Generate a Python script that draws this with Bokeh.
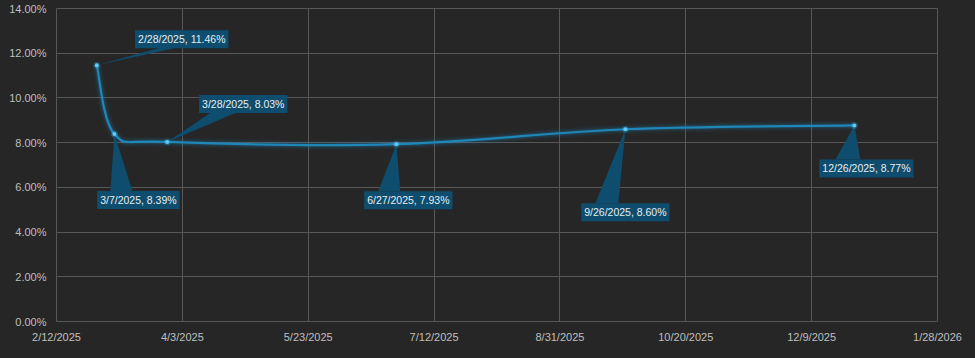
import numpy as np
import pandas as pd
from bokeh.plotting import figure
from bokeh.models import ColumnDataSource, Label, Range1d, FixedTicker
from bokeh.embed import file_html
from bokeh.resources import INLINE

# ---- data ----
dates = ["2025-02-28", "2025-03-07", "2025-03-28", "2025-06-27", "2025-09-26", "2025-12-26"]
values = [11.46, 8.39, 8.03, 7.93, 8.60, 8.77]
date_labels = ["2/28/2025", "3/7/2025", "3/28/2025", "6/27/2025", "9/26/2025", "12/26/2025"]
x_tick_dates = ["2025-02-12", "2025-04-03", "2025-05-23", "2025-07-12", "2025-08-31", "2025-10-20", "2025-12-09", "2026-01-28"]
x_tick_labels = ["2/12/2025", "4/3/2025", "5/23/2025", "7/12/2025", "8/31/2025", "10/20/2025", "12/9/2025", "1/28/2026"]
y_ticks = [0, 2, 4, 6, 8, 10, 12, 14]

# label offsets (screen px; +x right, +y down) : box centre, wedge base left/right
lab_dx = [85, 24, 76, 12, 0, 12]
lab_dy = [-26, 66, -38, 56, 83, 43]
wedge_base = [((65, -18), (82, -18)), ((-4, 57), (18, 57)), ((43, -29), (68, -29)),
              ((-18, 47), (4, 47)), ((-30, 74), (-7, 74)), ((-19, 34), (6, 34))]

BG = "#262626"
GRID = "#575757"
TXT = "#bfbfbf"
LINE = "#1f86b8"
BOX = "#0f4d6e"

W, H = 975, 358
L, R, T, B = 56, 38, 8, 37
fw, fh = W - L - R, H - T - B

ms = lambda d: pd.Timestamp(d).value / 1e6
xs = np.array([ms(d) for d in dates])
ys = np.array(values, dtype=float)
x0, x1 = ms(x_tick_dates[0]), ms(x_tick_dates[-1])
px_x = (x1 - x0) / fw      # ms per px
px_y = 14.0 / fh           # pct per px

p = figure(width=W, height=H, output_backend="svg", toolbar_location=None,
           x_range=Range1d(x0, x1), y_range=Range1d(0, 14),
           background_fill_color=BG, border_fill_color=BG,
           min_border_left=L, min_border_right=R, min_border_top=T, min_border_bottom=B)
p.outline_line_color = GRID
p.outline_line_width = 1

tick_ms = [ms(d) for d in x_tick_dates]
p.xaxis.ticker = FixedTicker(ticks=tick_ms)
p.xaxis.major_label_overrides = {t: l for t, l in zip(tick_ms, x_tick_labels)}
p.yaxis.ticker = FixedTicker(ticks=y_ticks)
p.yaxis.major_label_overrides = {v: f"{v:.2f}%" for v in y_ticks}
for ax in (p.xaxis[0], p.yaxis[0]):
    ax.axis_line_color = None
    ax.major_tick_line_color = None
    ax.minor_tick_line_color = None
    ax.major_tick_out = 0
    ax.major_tick_in = 0
    ax.major_label_text_color = TXT
    ax.major_label_text_font = "Liberation Sans"
    ax.major_label_text_font_size = "11px"
p.xaxis.major_label_standoff = 9
p.yaxis.major_label_standoff = 10
p.xgrid.grid_line_color = GRID
p.ygrid.grid_line_color = GRID
p.xgrid.ticker = p.xaxis.ticker
p.ygrid.ticker = p.yaxis.ticker

# smoothed line via Catmull-Rom bezier segments (rendering of the data points)
P = np.column_stack([xs, ys])
Pext = np.vstack([P[0], P, P[-1]])
seg = dict(x0=[], y0=[], x1=[], y1=[], cx0=[], cy0=[], cx1=[], cy1=[])
for i in range(len(P) - 1):
    p0, p1, p2, p3 = Pext[i], Pext[i + 1], Pext[i + 2], Pext[i + 3]
    c1 = p1 + (p2 - p0) / 6.0
    c2 = p2 - (p3 - p1) / 6.0
    seg["x0"].append(p1[0]); seg["y0"].append(p1[1])
    seg["x1"].append(p2[0]); seg["y1"].append(p2[1])
    seg["cx0"].append(c1[0]); seg["cy0"].append(c1[1])
    seg["cx1"].append(c2[0]); seg["cy1"].append(c2[1])
segsrc = ColumnDataSource(seg)

# glow
for wdt, alpha in [(10, 0.06), (7, 0.09), (4.5, 0.15)]:
    p.bezier(x0="x0", y0="y0", x1="x1", y1="y1", cx0="cx0", cy0="cy0", cx1="cx1", cy1="cy1",
             source=segsrc, line_color=LINE, line_width=wdt, line_alpha=alpha)
p.bezier(x0="x0", y0="y0", x1="x1", y1="y1", cx0="cx0", cy0="cy0", cx1="cx1", cy1="cy1",
         source=segsrc, line_color=LINE, line_width=2.2)

# callout wedges
wx, wy = [], []
for xi, yi, (bl, br) in zip(xs, ys, wedge_base):
    wx.append([xi, xi + bl[0] * px_x, xi + br[0] * px_x])
    wy.append([yi, yi - bl[1] * px_y, yi - br[1] * px_y])
p.patches(wx, wy, fill_color=BOX, line_color=None)

# markers
p.scatter(xs, ys, size=7, fill_color="#3fb6ea", fill_alpha=0.25, line_color=None)
p.scatter(xs, ys, size=4, fill_color="#5ccbf7", line_color=None)

labels = [f"{d}, {v:.2f}%" for d, v in zip(date_labels, values)]
for xi, yi, t, dx, dy in zip(xs, ys, labels, lab_dx, lab_dy):
    p.add_layout(Label(x=xi, y=yi, text=t, x_offset=dx, y_offset=-dy,
                       text_align="center", text_baseline="middle", text_color="#e6eef2",
                       text_font="Liberation Sans", text_font_size="10.5px",
                       background_fill_color=BOX, padding=3))

html = file_html(p, INLINE)
html = html.replace("</head>", "<style>html,body{margin:0;padding:0;background:#262626;overflow:hidden}</style></head>", 1)
open("out.html", "w").write(html)
